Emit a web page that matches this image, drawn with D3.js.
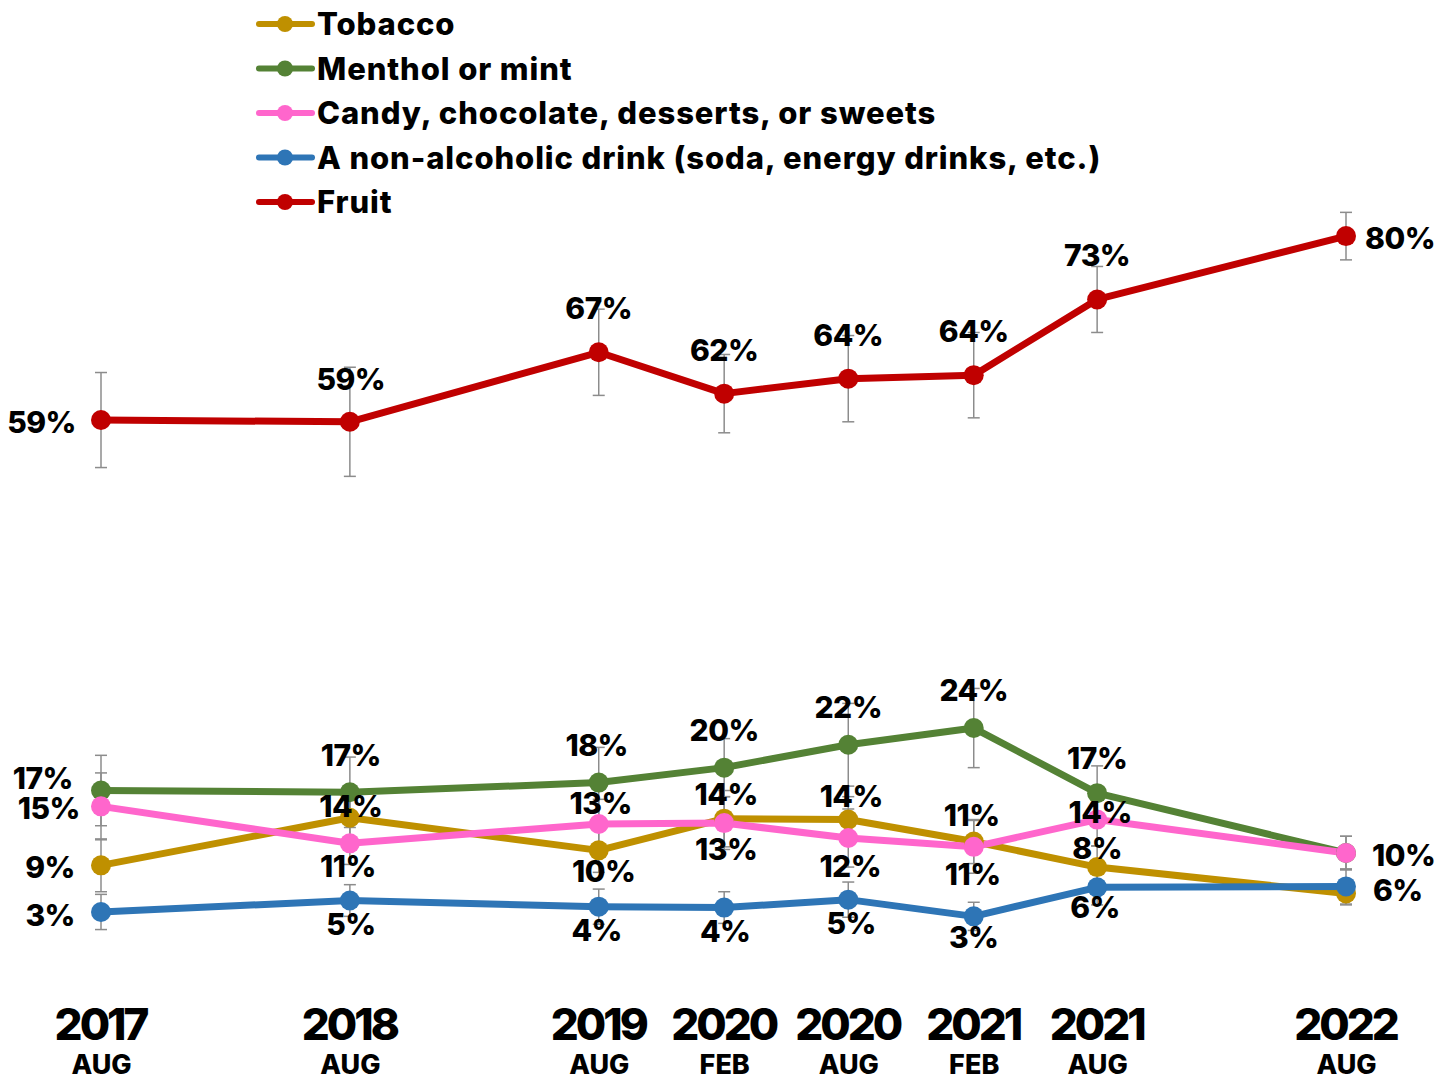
<!DOCTYPE html>
<html>
<head>
<meta charset="utf-8">
<script src="https://cdn.jsdelivr.net/npm/d3@7"></script>
<style>
  html, body { margin: 0; padding: 0; background: #fff; }
  svg { display: block; }
  text { font-family: Inter, "Open Sans", Roboto, sans-serif; font-weight: 700; fill: #000; }
</style>
</head>
<body>
<svg id="chart" width="1450" height="1082"></svg>
<script>
// ---- data ----
const periods = ["2017-08", "2018-08", "2019-08", "2020-02", "2020-08", "2021-02", "2021-08", "2022-08"];
const tickYears = ["2017", "2018", "2019", "2020", "2020", "2021", "2021", "2022"];
const tickMonths = ["AUG", "AUG", "AUG", "FEB", "AUG", "FEB", "AUG", "AUG"];

const seriesNames = ["Tobacco", "Menthol or mint", "Candy, chocolate, desserts, or sweets",
  "A non-alcoholic drink (soda, energy drinks, etc.)", "Fruit"];

const tobacco = [8.6, 14.0, 10.3, 13.9, 13.8, 11.3, 8.4, 5.4];
const menthol = [17.1, 16.9, 18.0, 19.7, 22.3, 24.2, 16.8, 10.0];
const candy   = [15.3, 11.1, 13.3, 13.4, 11.7, 10.7, 13.8, 10.0];
const drink   = [3.3, 4.6, 3.9, 3.8, 4.7, 2.8, 6.1, 6.2];
const fruit   = [59.2, 59.0, 66.9, 62.2, 63.9, 64.3, 72.9, 80.1];

// 95% CI half-widths (percentage points)
const tobaccoErr = [3.0, 2.6, 2.5, 3.2, 2.6, 2.5, 2.4, 1.3];
const mentholErr = [4.0, 4.0, 4.0, 3.3, 4.7, 4.5, 3.1, 1.9];
const candyErr   = [3.8, 2.4, 2.8, 3.0, 3.3, 3.0, 3.0, 1.9];
const drinkErr   = [2.0, 1.8, 2.0, 1.8, 2.0, 1.6, 2.0, 2.0];
const fruitErr   = [5.4, 6.2, 4.9, 4.45, 4.9, 4.85, 3.75, 2.7];

// ---- layout / style config ----
const colors = ["#BF9000", "#548235", "#FF66CC", "#2E75B6", "#C00000"];
// label placement per point: [anchor, dx, dy] relative to the marker (null = no label)
const labelPlacement = [
  [["end",-26,2],["middle",1,-12],["middle",5,21],["middle",2,-24],["middle",3,-23],["middle",-2,-26],["middle",0,-19],null],
  [["end",-28,-12],["middle",1,-37],["middle",-2,-37],["middle",0,-37],["middle",0,-38],["middle",0,-38],["middle",0,-35],null],
  [["end",-21,2],["middle",-2,23],["middle",2,-21],["middle",2,26],["middle",2,28],["middle",-1,27],["middle",3,-7],["start",26,2]],
  [["end",-26,3],["middle",1,24],["middle",-2,24],["middle",1,24],["middle",3,24],["middle",0,21],["middle",-2,20],["start",27,4]],
  [["end",-25,2],["middle",1,-43],["middle",0,-44],["middle",0,-43],["middle",0,-43],["middle",0,-44],["middle",0,-44],["start",19,2]]
];

const values = [tobacco, menthol, candy, drink, fruit];
const errs = [tobaccoErr, mentholErr, candyErr, drinkErr, fruitErr];

const parse = d3.timeParse("%Y-%m");
const dates = periods.map(parse);

const svg = d3.select("#chart");
const x = d3.scaleTime().domain([dates[0], dates[dates.length - 1]]).range([101, 1346]);
const y = d3.scaleLinear().domain([0, 80]).range([941, 237]);

// ---- x axis ----
const axis = d3.axisBottom(x).tickValues(dates).tickSize(0).tickFormat((d, i) => tickYears[i]);
const gx = svg.append("g").attr("transform", "translate(0,1000)").call(axis);
gx.select(".domain").remove();
gx.selectAll(".tick text")
  .attr("y", 0).attr("dy", null)
  .style("font-family", "Inter, sans-serif")
  .style("font-weight", 800)
  .style("font-size", "44px")
  .style("letter-spacing", "-3px")
  .attr("transform", "translate(-1,40)")
  .attr("fill", "#000");
gx.selectAll(".tick").append("text")
  .attr("y", 74).attr("text-anchor", "middle")
  .style("font-family", "Inter, sans-serif")
  .style("font-weight", 800)
  .style("font-size", "27px")
  .attr("fill", "#000")
  .text((d, i) => tickMonths[i]);

// ---- series ----
const line = d3.line().x((d, i) => x(dates[i])).y(d => y(d));

values.forEach((vals, s) => {
  svg.append("g").append("path").datum(vals)
    .attr("d", line).attr("fill", "none")
    .attr("stroke", colors[s]).attr("stroke-width", 7)
    .attr("stroke-linejoin", "round");
});

// error bars
const eg = svg.append("g").attr("stroke", "#8c8c8c").attr("stroke-width", 1.5);
values.forEach((vals, s) => {
  vals.forEach((v, i) => {
    const cx = x(dates[i]);
    const y1 = y(v + errs[s][i]), y2 = y(v - errs[s][i]);
    eg.append("line").attr("x1", cx).attr("x2", cx).attr("y1", y1).attr("y2", y2);
    eg.append("line").attr("x1", cx - 6).attr("x2", cx + 6).attr("y1", y1).attr("y2", y1);
    eg.append("line").attr("x1", cx - 6).attr("x2", cx + 6).attr("y1", y2).attr("y2", y2);
  });
});

// markers
values.forEach((vals, s) => {
  svg.append("g").selectAll("circle").data(vals).join("circle")
    .attr("cx", (d, i) => x(dates[i])).attr("cy", d => y(d))
    .attr("r", 10).attr("fill", colors[s]);
});

// data labels
const lg = svg.append("g");
values.forEach((vals, s) => {
  vals.forEach((v, i) => {
    const p = labelPlacement[s][i];
    if (!p) return;
    lg.append("text")
      .attr("x", x(dates[i]) + p[1])
      .attr("y", y(v) + p[2])
      .attr("dy", "0.36em")
      .attr("text-anchor", p[0])
      .style("font-size", "30px")
      .style("font-weight", 800)
      .style("letter-spacing", "-0.5px")
      .text(Math.round(v) + "%");
  });
});

// ---- legend ----
const leg = svg.append("g");
seriesNames.forEach((name, s) => {
  const ly = 24 + s * 44.5;
  const row = leg.append("g").attr("transform", `translate(0,${ly})`);
  row.append("line").attr("x1", 259).attr("x2", 312).attr("y1", 0).attr("y2", 0)
    .attr("stroke", colors[s]).attr("stroke-width", 6).attr("stroke-linecap", "round");
  row.append("circle").attr("cx", 285).attr("cy", 0).attr("r", 8).attr("fill", colors[s]);
  row.append("text").attr("x", 317).attr("y", 0).attr("dy", "0.36em")
    .style("font-size", "31px").style("font-weight", 800)
    .style("letter-spacing", "0.9px")
    .text(name);
});
</script>
</body>
</html>
